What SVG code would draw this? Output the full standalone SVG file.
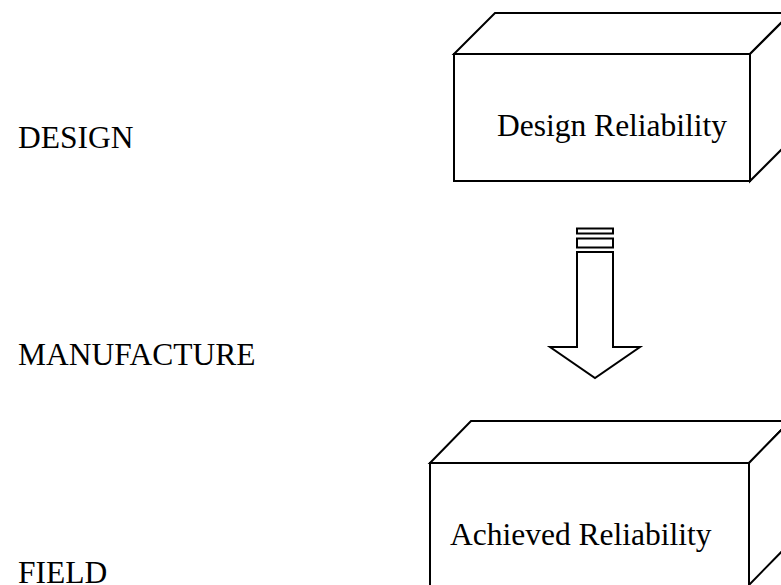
<svg xmlns="http://www.w3.org/2000/svg" width="781" height="585" viewBox="0 0 781 585">
  <style>
    .lbl { font-family: "Liberation Serif", "Times New Roman", serif; font-size: 31.5px; fill: #000; }
    .edge { fill: #fff; stroke: #000; stroke-width: 2; stroke-linejoin: miter; }
  </style>
  <rect width="781" height="585" fill="#fff"/>

  <!-- phase labels -->
  <g id="phases">
    <text class="lbl" x="18" y="148">DESIGN</text>
    <text class="lbl" x="18" y="365">MANUFACTURE</text>
    <text class="lbl" x="18" y="583">FIELD</text>
  </g>

  <!-- design reliability block (3D box) -->
  <g id="design-reliability">
    <polygon class="edge" points="454,54 495,13 791,13 750,54"/>
    <polygon class="edge" points="750,54 791,13 791,140 750,181"/>
    <rect class="edge" x="454" y="54" width="296" height="127"/>
    <text class="lbl" x="497" y="136">Design Reliability</text>
  </g>

  <!-- achieved reliability block (3D box) -->
  <g id="achieved-reliability">
    <polygon class="edge" points="430,463 471,421 790,421 749,463"/>
    <polygon class="edge" points="749,463 790,421 790,543 749,585"/>
    <rect class="edge" x="430" y="463" width="319" height="130"/>
    <text class="lbl" x="450" y="545">Achieved Reliability</text>
  </g>

  <!-- striped block arrow between the two blocks -->
  <g id="connectors">
    <rect class="edge" x="577" y="228.5" width="36" height="5"/>
    <rect class="edge" x="577" y="238.5" width="36" height="9"/>
    <polygon class="edge" points="577,252 613,252 613,347 640,347 595,378 550,347 577,347"/>
  </g>
</svg>
